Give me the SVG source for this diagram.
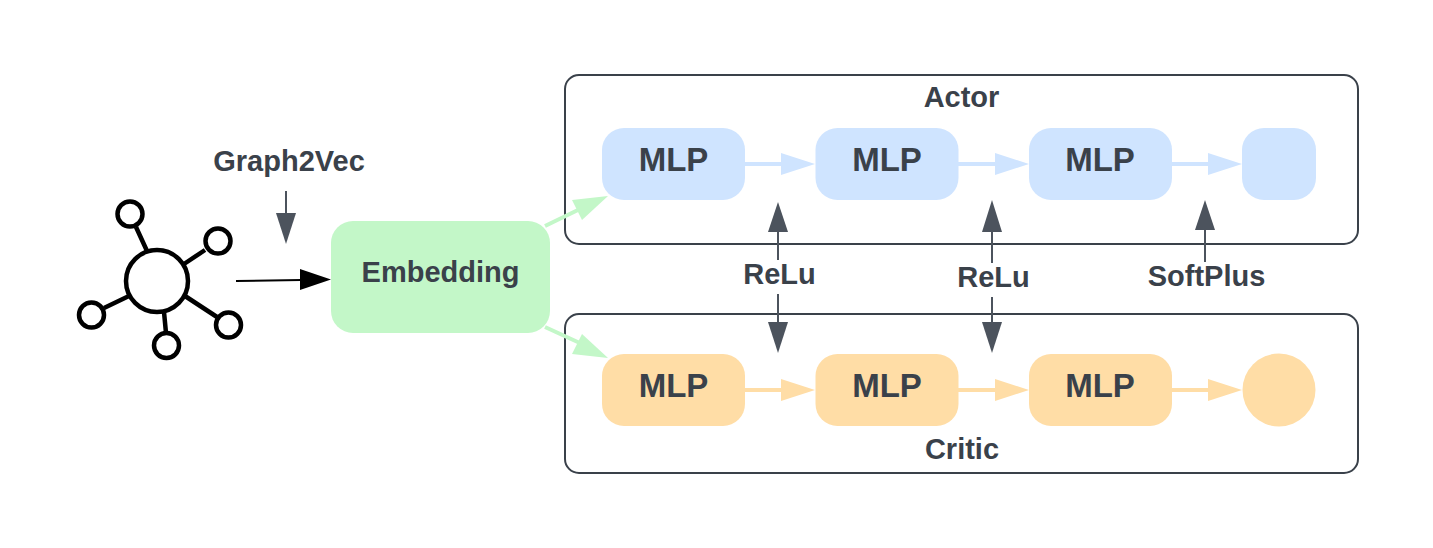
<svg xmlns="http://www.w3.org/2000/svg" width="1433" height="548" viewBox="0 0 1433 548">
<style>
text{font-family:"Liberation Sans",Arial,sans-serif;font-weight:700;fill:#3a414a;text-anchor:middle}
.t{font-size:29px}
.m{font-size:33px}
.box{fill:#fff;stroke:#3a414a;stroke-width:2}
.b{fill:#cfe4ff}
.o{fill:#ffdda6}
.g{fill:#c3f7c8}
.ic{fill:none;stroke:#000;stroke-width:4.5}
.blue{stroke:#cfe4ff;stroke-width:4;fill:none}
.or{stroke:#ffdda6;stroke-width:4;fill:none}
.gr{stroke:#c3f7c8;stroke-width:4;fill:none}
.dk{stroke:#4c535d;stroke-width:2;fill:none}
</style>
<rect width="1433" height="548" fill="#fff"/>
<g id="actor"><rect class="box" x="565" y="75" width="793" height="169" rx="14"/><text class="t" x="961.500" y="107">Actor</text></g>
<g id="critic"><rect class="box" x="565" y="314" width="793" height="159" rx="14"/><text class="t" x="962" y="459">Critic</text></g>
<g id="graph-icon">
<circle class="ic" cx="157" cy="281" r="31"/>
<circle class="ic" cx="130" cy="214" r="12.500"/>
<circle class="ic" cx="218" cy="241" r="12.500"/>
<circle class="ic" cx="91.500" cy="315" r="12.500"/>
<circle class="ic" cx="228.500" cy="325" r="12.500"/>
<circle class="ic" cx="166.500" cy="345.500" r="12.500"/>
<path class="ic" d="M136 227L147 251M205 250L184 264M104 308L129 296M217 317L185 296M164 312L166 333"/>
</g>
<g id="embedding"><rect class="g" x="331" y="221" width="219" height="112" rx="22"/><text class="t" x="440.500" y="282">Embedding</text></g>
<g id="a1"><rect class="b" x="602" y="128" width="143" height="72" rx="22"/><text class="m" x="673.500" y="171">MLP</text></g>
<g id="a2"><rect class="b" x="815.500" y="128" width="143" height="72" rx="22"/><text class="m" x="887" y="171">MLP</text></g>
<g id="a3"><rect class="b" x="1029" y="128" width="143" height="72" rx="22"/><text class="m" x="1100" y="171">MLP</text></g>
<g id="a4"><rect class="b" x="1242" y="128" width="74" height="72" rx="22"/></g>
<g id="c1"><rect class="o" x="602" y="354" width="143" height="72" rx="22"/><text class="m" x="673.500" y="397">MLP</text></g>
<g id="c2"><rect class="o" x="815.500" y="354" width="143" height="72" rx="22"/><text class="m" x="887" y="397">MLP</text></g>
<g id="c3"><rect class="o" x="1029" y="354" width="143" height="72" rx="22"/><text class="m" x="1100" y="397">MLP</text></g>
<g id="c4"><circle class="o" cx="1279" cy="390" r="36.500"/></g>
<g id="labels">
<text class="t" x="289" y="171">Graph2Vec</text>
<text class="t" x="779.500" y="284">ReLu</text>
<text class="t" x="993.500" y="287">ReLu</text>
<text class="t" x="1206.500" y="286">SoftPlus</text>
</g>
<g id="connectors">
<path d="M236 281L301 280" stroke="#000" stroke-width="2" fill="none"/><path d="M300 269L331 279.500L300 290Z" fill="#000"/>
<path class="dk" d="M286 191V214"/><path d="M276 213H296L286 244Z" fill="#4c535d"/>
<path class="gr" d="M545 226L580 209"/><path d="M572 200L608 196L582 220Z" fill="#c3f7c8"/>
<path class="gr" d="M545 327L582 344"/><path d="M582 334L608 358L572 354Z" fill="#c3f7c8"/>
<path class="blue" d="M745 164H781"/><path d="M781 153L815 164L781 175Z" fill="#cfe4ff"/>
<path class="blue" d="M958 164H995"/><path d="M995 153L1029 164L995 175Z" fill="#cfe4ff"/>
<path class="blue" d="M1172 164H1208"/><path d="M1208 153L1242 164L1208 175Z" fill="#cfe4ff"/>
<path class="or" d="M745 390H781"/><path d="M781 379L815 390L781 401Z" fill="#ffdda6"/>
<path class="or" d="M958 390H995"/><path d="M995 379L1029 390L995 401Z" fill="#ffdda6"/>
<path class="or" d="M1172 390H1208"/><path d="M1208 379L1242 390L1208 401Z" fill="#ffdda6"/>
<path class="dk" d="M778 232V260M778 294V323"/>
<path d="M768 232L778 202L788 232Z" fill="#4c535d"/><path d="M768 322H788L778 353Z" fill="#4c535d"/>
<path class="dk" d="M992 232V263M992 297V323"/>
<path d="M982 232L992 200L1002 232Z" fill="#4c535d"/><path d="M982 322H1002L992 353Z" fill="#4c535d"/>
<path class="dk" d="M1205 230V262"/>
<path d="M1195 230L1205 200L1215 230Z" fill="#4c535d"/>
</g>
</svg>
